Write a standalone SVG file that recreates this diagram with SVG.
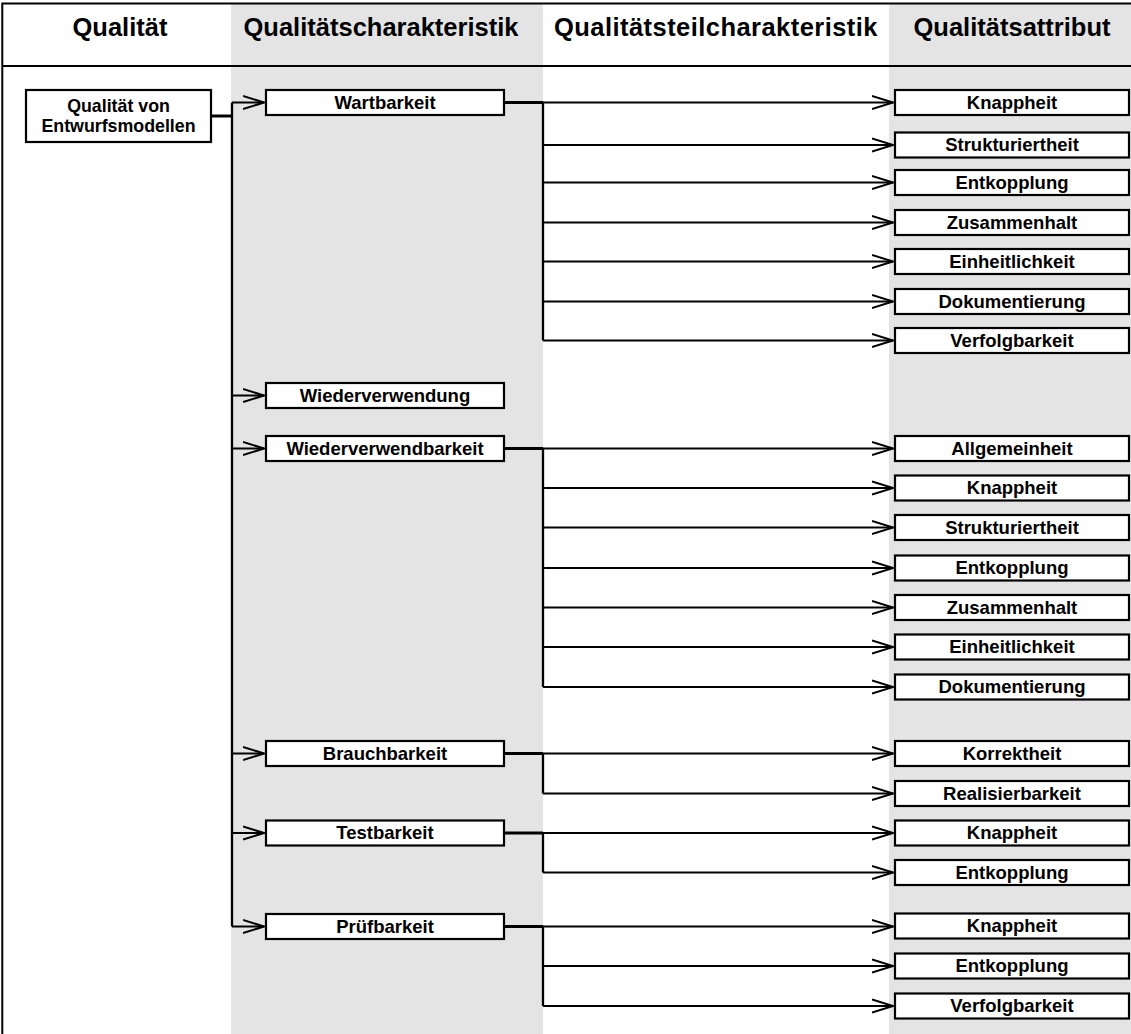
<svg xmlns="http://www.w3.org/2000/svg" width="1131" height="1034" viewBox="0 0 1131 1034">
  <style>
    .band { fill: #e4e4e4; }
    .frame { stroke: #000; stroke-width: 2; fill: none; }
    .head { font-family: "Liberation Sans", Arial, sans-serif; font-weight: bold; font-size: 25.5px; fill: #000; text-anchor: middle; }
    .box { fill: #fff; stroke: #000; stroke-width: 2.2; }
    .lbl { font-family: "Liberation Sans", Arial, sans-serif; font-weight: bold; font-size: 18.5px; fill: #000; text-anchor: middle; }
    .root { font-size: 17.8px; }
    .stub { stroke: #000; stroke-width: 3; fill: none; }
    .trunk { stroke: #000; stroke-width: 2.3; fill: none; }
    .edge { stroke: #000; stroke-width: 2; fill: none; marker-end: url(#vee); }
  </style>
  <defs>
    <marker id="vee" markerUnits="userSpaceOnUse" markerWidth="26" markerHeight="18" refX="21" refY="8" orient="auto">
      <path d="M0,1.5 L21,8 L0,14.5" fill="none" stroke="#000" stroke-width="2"/>
    </marker>
  </defs>

  <!-- column backgrounds -->
  <rect x="0" y="0" width="1131" height="1034" fill="#fff"/>
  <rect class="band" x="231" y="4" width="312" height="1030"/>
  <rect class="band" x="889" y="4" width="242" height="1030"/>

  <!-- table frame -->
  <path class="frame" d="M2.3,1034 V3.5 H1131 M2.3,66 H1131"/>

  <!-- column headings -->
  <g id="headings">
    <text class="head" x="120" y="36">Qualität</text>
    <text class="head" x="381" y="36">Qualitätscharakteristik</text>
    <text class="head" x="716" y="36" letter-spacing="0.45">Qualitätsteilcharakteristik</text>
    <text class="head" x="1012" y="36">Qualitätsattribut</text>
  </g>

  <!-- connectors -->
  <g id="connectors">
    <!-- root to characteristics -->
    <path class="stub" d="M212,116 H232"/>
    <path class="trunk" d="M232,102.5 V926.5"/>
    <path class="edge" d="M232,102.5 H264"/>
    <path class="edge" d="M232,395.5 H264"/>
    <path class="edge" d="M232,448.5 H264"/>
    <path class="edge" d="M232,753.5 H264"/>
    <path class="edge" d="M232,833 H264"/>
    <path class="edge" d="M232,926.5 H264"/>

    <!-- Wartbarkeit -->
    <path class="stub" d="M505,102.5 H543"/>
    <path class="trunk" d="M543,102.5 V340.5"/>
    <path class="edge" d="M543,102.5 H893"/>
    <path class="edge" d="M543,145 H893"/>
    <path class="edge" d="M543,182.5 H893"/>
    <path class="edge" d="M543,222.5 H893"/>
    <path class="edge" d="M543,261.5 H893"/>
    <path class="edge" d="M543,301.5 H893"/>
    <path class="edge" d="M543,340.5 H893"/>

    <!-- Wiederverwendbarkeit -->
    <path class="stub" d="M505,448.5 H543"/>
    <path class="trunk" d="M543,448.5 V687"/>
    <path class="edge" d="M543,448.5 H893"/>
    <path class="edge" d="M543,488 H893"/>
    <path class="edge" d="M543,527.5 H893"/>
    <path class="edge" d="M543,568 H893"/>
    <path class="edge" d="M543,607.5 H893"/>
    <path class="edge" d="M543,647 H893"/>
    <path class="edge" d="M543,687 H893"/>

    <!-- Brauchbarkeit -->
    <path class="stub" d="M505,753.5 H543"/>
    <path class="trunk" d="M543,753.5 V793.5"/>
    <path class="edge" d="M543,753.5 H893"/>
    <path class="edge" d="M543,793.5 H893"/>

    <!-- Testbarkeit -->
    <path class="stub" d="M505,833 H543"/>
    <path class="trunk" d="M543,833 V872.5"/>
    <path class="edge" d="M543,833 H893"/>
    <path class="edge" d="M543,872.5 H893"/>

    <!-- Prüfbarkeit -->
    <path class="stub" d="M505,926.5 H543"/>
    <path class="trunk" d="M543,926.5 V1006"/>
    <path class="edge" d="M543,926.5 H893"/>
    <path class="edge" d="M543,966 H893"/>
    <path class="edge" d="M543,1006 H893"/>
  </g>

  <!-- root node -->
  <g id="n-qualitaet">
    <rect class="box" x="26" y="90" width="185" height="52"/>
    <text class="lbl root" x="118.5" y="111.5">Qualität von</text>
    <text class="lbl root" x="118.5" y="131.5">Entwurfsmodellen</text>
  </g>

  <!-- characteristics -->
  <g id="n-wartbarkeit">
    <rect class="box" x="266" y="90" width="238" height="25"/>
    <text class="lbl" x="385" y="108.5">Wartbarkeit</text>
  </g>
  <g id="n-wiederverwendung">
    <rect class="box" x="266" y="383" width="238" height="25"/>
    <text class="lbl" x="385" y="401.5">Wiederverwendung</text>
  </g>
  <g id="n-wiederverwendbarkeit">
    <rect class="box" x="266" y="436" width="238" height="25"/>
    <text class="lbl" x="385" y="454.5">Wiederverwendbarkeit</text>
  </g>
  <g id="n-brauchbarkeit">
    <rect class="box" x="266" y="741" width="238" height="25"/>
    <text class="lbl" x="385" y="759.5">Brauchbarkeit</text>
  </g>
  <g id="n-testbarkeit">
    <rect class="box" x="266" y="820.5" width="238" height="25"/>
    <text class="lbl" x="385" y="839">Testbarkeit</text>
  </g>
  <g id="n-pruefbarkeit">
    <rect class="box" x="266" y="914" width="238" height="25"/>
    <text class="lbl" x="385" y="932.5">Prüfbarkeit</text>
  </g>

  <!-- attributes: Wartbarkeit -->
  <g id="a-w-knappheit"><rect class="box" x="895" y="90" width="234" height="25"/><text class="lbl" x="1012" y="108.5">Knappheit</text></g>
  <g id="a-w-strukturiertheit"><rect class="box" x="895" y="132.5" width="234" height="25"/><text class="lbl" x="1012" y="151">Strukturiertheit</text></g>
  <g id="a-w-entkopplung"><rect class="box" x="895" y="170" width="234" height="25"/><text class="lbl" x="1012" y="188.5">Entkopplung</text></g>
  <g id="a-w-zusammenhalt"><rect class="box" x="895" y="210" width="234" height="25"/><text class="lbl" x="1012" y="228.5">Zusammenhalt</text></g>
  <g id="a-w-einheitlichkeit"><rect class="box" x="895" y="249" width="234" height="25"/><text class="lbl" x="1012" y="267.5">Einheitlichkeit</text></g>
  <g id="a-w-dokumentierung"><rect class="box" x="895" y="289" width="234" height="25"/><text class="lbl" x="1012" y="307.5">Dokumentierung</text></g>
  <g id="a-w-verfolgbarkeit"><rect class="box" x="895" y="328" width="234" height="25"/><text class="lbl" x="1012" y="346.5">Verfolgbarkeit</text></g>

  <!-- attributes: Wiederverwendbarkeit -->
  <g id="a-r-allgemeinheit"><rect class="box" x="895" y="436" width="234" height="25"/><text class="lbl" x="1012" y="454.5">Allgemeinheit</text></g>
  <g id="a-r-knappheit"><rect class="box" x="895" y="475.5" width="234" height="25"/><text class="lbl" x="1012" y="494">Knappheit</text></g>
  <g id="a-r-strukturiertheit"><rect class="box" x="895" y="515" width="234" height="25"/><text class="lbl" x="1012" y="533.5">Strukturiertheit</text></g>
  <g id="a-r-entkopplung"><rect class="box" x="895" y="555.5" width="234" height="25"/><text class="lbl" x="1012" y="574">Entkopplung</text></g>
  <g id="a-r-zusammenhalt"><rect class="box" x="895" y="595" width="234" height="25"/><text class="lbl" x="1012" y="613.5">Zusammenhalt</text></g>
  <g id="a-r-einheitlichkeit"><rect class="box" x="895" y="634.5" width="234" height="25"/><text class="lbl" x="1012" y="653">Einheitlichkeit</text></g>
  <g id="a-r-dokumentierung"><rect class="box" x="895" y="674.5" width="234" height="25"/><text class="lbl" x="1012" y="693">Dokumentierung</text></g>

  <!-- attributes: Brauchbarkeit -->
  <g id="a-b-korrektheit"><rect class="box" x="895" y="741" width="234" height="25"/><text class="lbl" x="1012" y="759.5">Korrektheit</text></g>
  <g id="a-b-realisierbarkeit"><rect class="box" x="895" y="781" width="234" height="25"/><text class="lbl" x="1012" y="799.5">Realisierbarkeit</text></g>

  <!-- attributes: Testbarkeit -->
  <g id="a-t-knappheit"><rect class="box" x="895" y="820.5" width="234" height="25"/><text class="lbl" x="1012" y="839">Knappheit</text></g>
  <g id="a-t-entkopplung"><rect class="box" x="895" y="860" width="234" height="25"/><text class="lbl" x="1012" y="878.5">Entkopplung</text></g>

  <!-- attributes: Prüfbarkeit -->
  <g id="a-p-knappheit"><rect class="box" x="895" y="913.5" width="234" height="25"/><text class="lbl" x="1012" y="932">Knappheit</text></g>
  <g id="a-p-entkopplung"><rect class="box" x="895" y="953.5" width="234" height="25"/><text class="lbl" x="1012" y="972">Entkopplung</text></g>
  <g id="a-p-verfolgbarkeit"><rect class="box" x="895" y="993.5" width="234" height="25"/><text class="lbl" x="1012" y="1012">Verfolgbarkeit</text></g>
</svg>
